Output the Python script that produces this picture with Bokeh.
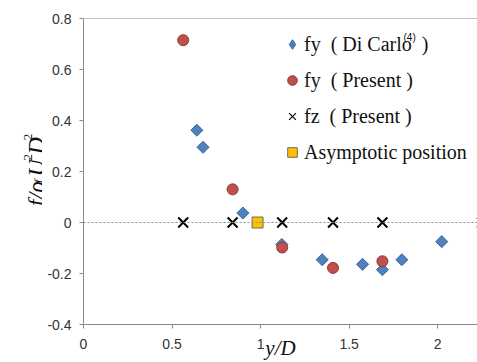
import math
from bokeh.plotting import figure
from bokeh.layouts import row
from bokeh.models import Range1d, FixedTicker, Span, Label, Legend, LegendItem
from bokeh.core.properties import value
from bokeh.embed import file_html
from bokeh.resources import INLINE

# ---- data ----
dicarlo_x = [0.64, 0.675, 0.90, 1.12, 1.348, 1.576, 1.688, 1.798, 2.023]
dicarlo_y = [0.362, 0.295, 0.037, -0.086, -0.146, -0.164, -0.185, -0.146, -0.075]

present_fy_x = [0.563, 0.842, 1.122, 1.409, 1.688]
present_fy_y = [0.715, 0.13, -0.098, -0.178, -0.152]

present_fz_x = [0.563, 0.842, 1.122, 1.409, 1.688, 2.25]
present_fz_y = [0.0, 0.0, 0.0, 0.0, 0.0, 0.0]

asym_x = [0.983]
asym_y = [0.0]

x_ticks = [0, 0.5, 1, 1.5, 2]
x_tick_labels = ["0", "0.5", "1", "1.5", "2"]
y_ticks = [-0.4, -0.2, 0, 0.2, 0.4, 0.6, 0.8]
y_tick_labels = ["-0.4", "-0.2", "0", "0.2", "0.4", "0.6", "0.8"]

legend_labels = ["fy  ( Di Carlo  )", "fy  ( Present )", "fz  ( Present )",
                 "Asymptotic position"]
ref_mark = "(4)"
x_title = "y/D"

X0, X1 = 0.0, 2.225
Y0, Y1 = -0.4, 0.8

W_LAB = 42          # width of the strip that holds the rotated y title
W_ALL, H_ALL = 477, 362

serif = "Liberation Serif"
sans = "Liberation Sans"

# ---------------- main chart ----------------
p = figure(width=W_ALL - W_LAB, height=H_ALL, output_backend="svg",
           toolbar_location=None,
           x_range=Range1d(X0, X1), y_range=Range1d(Y0, Y1),
           min_border_left=83 - W_LAB, min_border_right=0, min_border_top=18,
           min_border_bottom=37)
p.outline_line_color = None
p.grid.visible = False

axis_col = "#8a8a8a"
for ax in (p.xaxis[0], p.yaxis[0]):
    ax.axis_line_color = axis_col
    ax.major_tick_line_color = axis_col
    ax.minor_tick_line_color = None
    ax.major_tick_out = 4
    ax.major_tick_in = 0
    ax.major_label_text_font = sans
    ax.major_label_text_font_size = "14px"
    ax.major_label_text_color = "#333333"

p.xaxis.ticker = FixedTicker(ticks=x_ticks)
p.xaxis.major_label_overrides = {t: l for t, l in zip(x_ticks, x_tick_labels)}
p.xaxis.major_label_standoff = 10
p.xaxis.axis_label = x_title
p.xaxis.axis_label_text_font = serif
p.xaxis.axis_label_text_font_style = "italic"
p.xaxis.axis_label_text_font_size = "21px"
p.xaxis.axis_label_text_color = "#111111"
p.xaxis.axis_label_standoff = -16

p.yaxis.ticker = FixedTicker(ticks=y_ticks)
p.yaxis.major_label_overrides = {t: l for t, l in zip(y_ticks, y_tick_labels)}
p.yaxis.major_label_standoff = 8

# top border line and dotted zero line
p.add_layout(Span(location=0.8, dimension="width", line_color=axis_col, line_width=1))
p.add_layout(Span(location=0.0, dimension="width", line_color="#8c8c8c",
                  line_width=1, line_dash="2 2"))

blue, blue_edge = "#4F81BD", "#3A6699"
red, red_edge = "#C0504D", "#8C3836"
gold, gold_edge = "#FFC000", "#6b6b6b"

p.scatter(dicarlo_x, dicarlo_y, marker="square", angle=math.pi / 4, size=8.5,
          fill_color=blue, line_color=blue_edge, line_width=1)
p.scatter(present_fy_x, present_fy_y, marker="circle", size=11,
          fill_color=red, line_color=red_edge, line_width=1)
p.scatter(present_fz_x, present_fz_y, marker="x", size=14,
          line_color="black", line_width=2)
p.scatter(asym_x, asym_y, marker="square", size=11,
          fill_color=gold, line_color=gold_edge, line_width=1)

# legend-only renderers (hidden from the plot area, drawn only in the legend)
l_dc = p.scatter(dicarlo_x, dicarlo_y, marker="diamond", size=10,
                 fill_color=blue, line_color=blue_edge, visible=False)
l_fy = p.scatter(present_fy_x, present_fy_y, marker="circle", size=10,
                 fill_color=red, line_color=red_edge, visible=False)
l_fz = p.scatter(present_fz_x, present_fz_y, marker="x", size=10,
                 line_color="black", line_width=1.2, visible=False)
l_as = p.scatter(asym_x, asym_y, marker="square", size=10,
                 fill_color=gold, line_color=gold_edge, visible=False)

legend = Legend(items=[LegendItem(label=legend_labels[0], renderers=[l_dc]),
                       LegendItem(label=legend_labels[1], renderers=[l_fy]),
                       LegendItem(label=legend_labels[2], renderers=[l_fz]),
                       LegendItem(label=legend_labels[3], renderers=[l_as])],
                location=(197, 160))
legend.border_line_color = None
legend.background_fill_alpha = 0
legend.inactive_fill_alpha = 0
legend.padding = 0
legend.margin = 0
legend.glyph_width = 24
legend.glyph_height = 24
legend.label_height = 24
legend.spacing = 12
legend.label_standoff = 0
legend.label_text_font = serif
legend.label_text_font_size = "20px"
legend.label_text_color = "#111111"
p.add_layout(legend, "center")

# superscript (4) next to "Di Carlo" (placed in window pixels -> data)
sx = X0 + (403 - 83) / 394.0 * (X1 - X0)
sy = Y1 - (37 - 18) / 307.0 * (Y1 - Y0)
p.add_layout(Label(x=sx, y=sy, text=ref_mark, text_font=sans,
                   text_font_size="10px", text_color="#111111",
                   text_align="left", text_baseline="alphabetic"))

# ---------------- rotated y title strip ----------------
lab = figure(width=W_LAB, height=H_ALL, output_backend="svg", toolbar_location=None,
             x_range=Range1d(0, W_LAB), y_range=Range1d(0, H_ALL),
             min_border=0, x_axis_location=None, y_axis_location=None)
lab.outline_line_color = None
lab.grid.visible = False

a = math.pi / 2


def piece(txt, bx, wy, size, style="italic"):
    # bx: baseline x (px), wy: start of the text (window px from top)
    lab.text(x=[bx], y=[H_ALL - wy], text=[txt], angle=a,
             text_font=value(serif), text_font_style=style,
             text_font_size=value(f"{size}px"), text_color="#111111",
             text_align="left", text_baseline="alphabetic")


piece("f/ρ", 35, 222, 24)
piece("f", 38, 195, 13)
piece("U", 35, 187, 24)
piece("2", 27, 168, 13, style="normal")
piece("D", 35, 161, 24)
piece("2", 27, 144, 13, style="normal")

layout = row(lab, p)
open("out.html", "w").write(file_html(layout, INLINE))
